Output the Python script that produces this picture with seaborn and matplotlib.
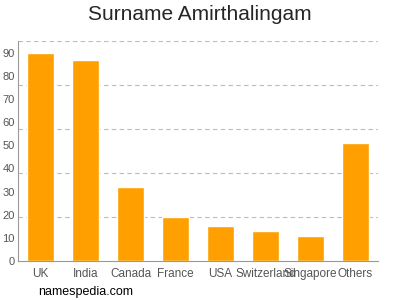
import matplotlib
matplotlib.use("Agg")
import matplotlib.pyplot as plt
import seaborn as sns
import pandas as pd

countries = ["UK", "India", "Canada", "France", "USA", "Switzerland", "Singapore", "Others"]
values = [90, 87, 32, 19, 15, 13, 11, 51]
yticks = [0, 10, 20, 30, 40, 50, 60, 70, 80, 90]
gridlines = [19, 38, 57, 76, 95]

sns.set_style("white")
plt.rcParams['font.family'] = ['Liberation Sans', 'DejaVu Sans']

df = pd.DataFrame({"country": countries, "value": values})
fig = plt.figure(figsize=(4, 3), dpi=100)
ax = fig.add_axes([0.045, 0.13, 0.9, 0.733])
sns.barplot(data=df, x="country", y="value", color="#FFA000", saturation=1, width=0.62, ax=ax)

ax.set_ylim(0, 95)
ax.set_xlim(-0.5, len(countries) - 0.5)
ax.set_yticks(yticks)
for g in gridlines:
    ax.axhline(g, color="#bbbbbb", linestyle=(0, (4, 3)), linewidth=0.8, zorder=0)
ax.set_xlabel("")
ax.set_ylabel("")
for s in ["top", "right"]:
    ax.spines[s].set_visible(False)
ax.spines["left"].set_color("#999999")
ax.spines["bottom"].set_color("#999999")
ax.spines["left"].set_linewidth(0.8)
ax.spines["bottom"].set_linewidth(0.8)
ax.tick_params(axis="x", colors="#999999", length=3, width=0.8, labelsize=8.5, labelcolor="#555555", pad=2)
ax.tick_params(axis="y", colors="#999999", length=2, width=0.8, labelsize=8, labelcolor="#555555", pad=0.5)

fig.suptitle("Surname Amirthalingam", fontsize=15, y=0.985, x=0.5)
fig.text(0.095, 0.018, "namespedia.com", fontsize=9, color="#000000")
fig.savefig("out.png", dpi=100)
